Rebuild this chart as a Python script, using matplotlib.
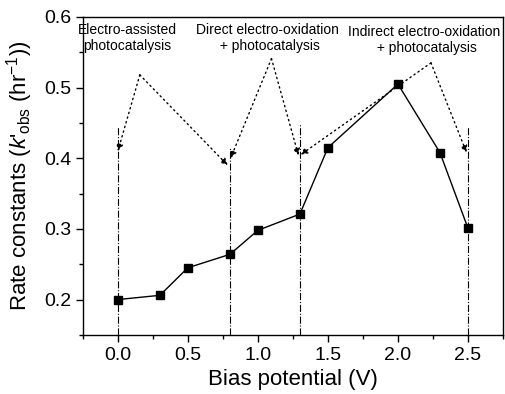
import numpy as np
import matplotlib
matplotlib.use('Agg')
import matplotlib.pyplot as plt
from matplotlib.ticker import MultipleLocator

plt.rcParams['font.family'] = ['Liberation Sans', 'DejaVu Sans']
plt.rcParams['mathtext.fontset'] = 'custom'
plt.rcParams['mathtext.rm'] = 'Liberation Sans'
plt.rcParams['mathtext.it'] = 'Liberation Sans:italic'

# data
bias = [0.0, 0.3, 0.5, 0.8, 1.0, 1.3, 1.5, 2.0, 2.3, 2.5]
rate = [0.200, 0.206, 0.245, 0.264, 0.298, 0.321, 0.415, 0.505, 0.408, 0.301]

# region boundaries (dash-dot lines) and their top ends
vlines_x = [0.0, 0.8, 1.3, 2.5]
vlines_top = [0.445, 0.414, 0.448, 0.446]

# annotation labels: text, x, y
labels = ["Electro-assisted\nphotocatalysis",
          "Direct electro-oxidation\n + photocatalysis",
          "Indirect electro-oxidation\n + photocatalysis"]
label_x = [0.07, 1.07, 2.19]
label_y = [0.592, 0.592, 0.589]

# dotted arrows: peak point -> (left tip, right tip)
peaks = [(0.157, 0.518), (1.097, 0.541), (2.236, 0.535)]
tips_left = [(0.0, 0.410), (0.805, 0.400), (1.305, 0.405)]
tips_right = [(0.785, 0.390), (1.29, 0.404), (2.49, 0.408)]

fig = plt.figure(figsize=(5.05, 3.94), dpi=100)
ax = fig.add_axes([0.164, 0.150, 0.832, 0.807])

for x, top in zip(vlines_x, vlines_top):
    ax.plot([x, x], [0.15, top], color='black', lw=0.8, ls='-.')

ax.plot(bias, rate, color='black', lw=1.0, marker='s', markersize=6)

for p, tl, tr in zip(peaks, tips_left, tips_right):
    for tip in (tl, tr):
        ax.annotate('', xy=tip, xytext=p,
                    arrowprops=dict(arrowstyle='-|>', ls=(0, (1, 2.5)),
                                    color='black', lw=1.0,
                                    mutation_scale=10,
                                    shrinkA=0, shrinkB=0))

for t, x, y in zip(labels, label_x, label_y):
    ax.text(x, y, t, ha='center', va='top', fontsize=10, linespacing=1.25)

ax.set_xlim(-0.25, 2.75)
ax.set_ylim(0.15, 0.6)
ax.xaxis.set_minor_locator(MultipleLocator(0.25))
ax.yaxis.set_minor_locator(MultipleLocator(0.05))
ax.set_xticks([0.0, 0.5, 1.0, 1.5, 2.0, 2.5])
ax.set_xticklabels(['0.0', '0.5', '1.0', '1.5', '2.0', '2.5'])
ax.set_yticks([0.2, 0.3, 0.4, 0.5, 0.6])
ax.set_yticklabels(['0.2', '0.3', '0.4', '0.5', '0.6'])
ax.tick_params(which='major', direction='out', length=5, width=1, labelsize=14)
ax.tick_params(which='minor', direction='out', length=3, width=1)
for s in ax.spines.values():
    s.set_linewidth(1.0)

ax.set_xlabel('Bias potential (V)', fontsize=16, labelpad=4)
ax.set_ylabel(r"Rate constants ($k$'$_{\mathrm{obs}}$ (hr$^{-1}$))", fontsize=16, labelpad=6)

fig.savefig('out.png', dpi=100)
